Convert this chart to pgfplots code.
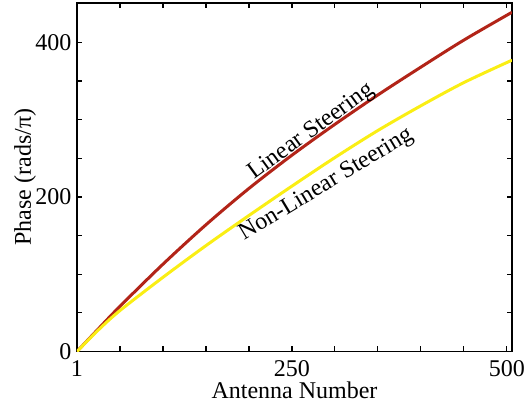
\documentclass[border=0pt]{standalone}
\usepackage{fontspec}
\setmainfont{Liberation Serif}
\usepackage{pgfplots}
\pgfplotsset{compat=1.18}
\definecolor{linred}{RGB}{178,36,24}
\definecolor{nlyellow}{RGB}{250,238,20}
\begin{document}
\fontsize{12}{14}\selectfont
\begin{tikzpicture}
\begin{axis}[
  at={(0,0)}, anchor=south west,
  scale only axis, width=217.5pt, height=174.25pt,
  xmin=1, xmax=507, ymin=0, ymax=451,
  xtick={1,51,...,501}, xticklabels={1,,,,,250,,,,,500},
  ytick={0,50,...,450}, yticklabels={0,,,,200,,,,400,},
  tick align=inside, xtick pos=both, ytick pos=both,
  major tick length=2.5pt,
  axis line style={line width=0.6pt},
  tick style={line width=0.6pt, black},
  /pgf/number format/assume math mode=true,
  xticklabel style={anchor=north, inner sep=0pt, yshift=-4.5pt},
  yticklabel style={anchor=east, inner sep=0pt, xshift=-2.6pt},
  xlabel={Antenna Number}, ylabel={Phase (rads/π)},
  xlabel style={at={(axis description cs:0.5,-0.134)}, anchor=base},
  ylabel style={at={(axis description cs:-0.1195,0.5)}, anchor=center},
]
\addplot[linred, line width=1.5pt, smooth] coordinates {
(1,0) (26,29.5) (51,58.5) (101,113) (151,164) (201,211) (251,254) (301,294) (351,332) (401,368) (451,403) (507,439)};
\addplot[nlyellow, line width=1.5pt, smooth] coordinates {
(1,0) (26,28) (51,53) (101,96) (151,137) (201,176) (251,214) (301,251) (351,286) (401,318) (451,348) (507,377)};
\node[rotate=36, inner sep=1pt] at (axis cs:274,284.5) {Linear Steering};
\node[rotate=31, inner sep=1pt] at (axis cs:291,215.5) {Non-Linear Steering};
\end{axis}
\pgfresetboundingbox
\path[use as bounding box] (-38.5pt,-28.25pt) rectangle (225pt,175.75pt);
\end{tikzpicture}
\end{document}
